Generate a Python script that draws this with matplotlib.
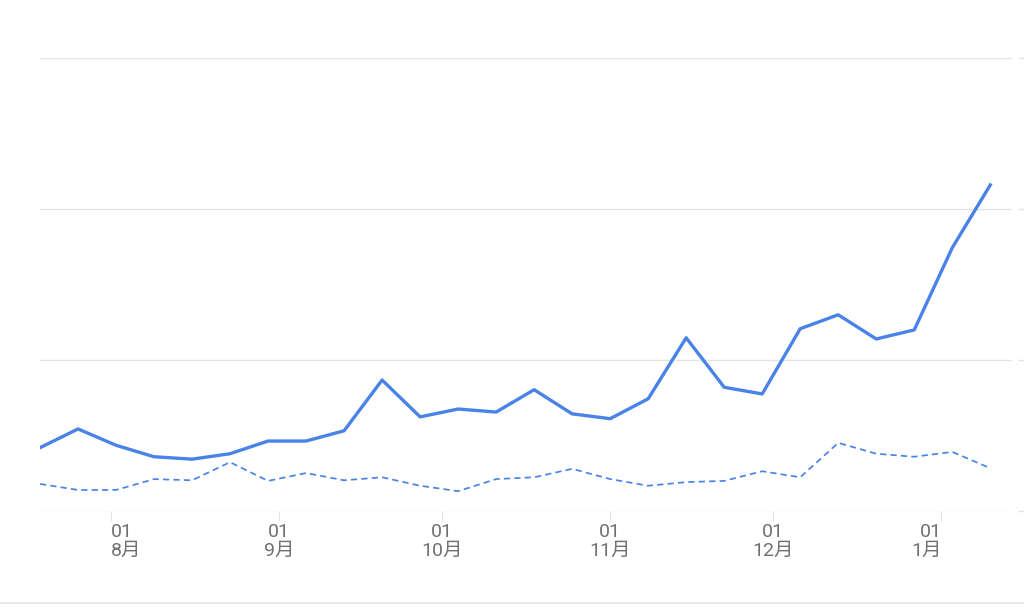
import numpy as np
import pandas as pd
import matplotlib
matplotlib.use('Agg')
import matplotlib.pyplot as plt
import matplotlib.dates as mdates
from matplotlib.lines import Line2D

plt.rcParams['font.family'] = ['Roboto', 'Noto Sans CJK SC', 'DejaVu Sans']

# weekly data
weeks = pd.date_range('2021-07-19', periods=26, freq='7D')
current = [10.4, 13.5, 10.8, 8.9, 8.5, 9.4, 11.5, 11.5, 13.2, 21.6,
           15.5, 16.8, 16.3, 20.0, 16.0, 15.2, 18.5, 28.6, 20.4, 19.3,
           30.1, 32.4, 28.4, 29.9, 43.5, 53.9]
previous = [4.4, 3.4, 3.4, 5.2, 5.0, 8.0, 4.9, 6.2, 5.0, 5.5,
            4.1, 3.2, 5.2, 5.5, 6.9, 5.2, 4.1, 4.7, 4.9, 6.5,
            5.5, 11.2, 9.4, 8.9, 9.7, 7.0]
month_ticks = pd.to_datetime(['2021-08-01', '2021-09-01', '2021-10-01',
                              '2021-11-01', '2021-12-01', '2022-01-01'])
month_labels = ['01\n8月', '01\n9月', '01\n10月', '01\n11月', '01\n12月', '01\n1月']
y_ticks = [0, 25, 50, 75]

blue = '#4a83e8'
grid = '#e4e4e4'
txt = '#717171'

fig = plt.figure(figsize=(10.24, 6.13), dpi=100)
ax = fig.add_axes([40/1024, 102.5/613, 972/1024, 453/613])

ax.plot(weeks, current, color=blue, lw=2.4, solid_joinstyle='round', zorder=3)
ax.plot(weeks, previous, color=blue, lw=1.25, linestyle=(0, (3.6, 2.4)), zorder=3)

ax.set_xlim(weeks[0], weeks[0] + pd.Timedelta(days=179))
ax.set_ylim(0, 75)

for s in ax.spines.values():
    s.set_visible(False)

ax.set_yticks(y_ticks)
ax.yaxis.tick_right()
ax.set_yticklabels([str(v) for v in y_ticks], color=txt, fontsize=12, va='top')
ax.tick_params(axis='y', length=0, pad=9)
ax.yaxis.grid(True, color=grid, lw=1.0)
for v in y_ticks:
    ax.axhline(v, xmin=1.0072, xmax=1.02, color=grid, lw=1.0, clip_on=False)

ax.set_xticks(month_ticks)
ax.set_xticklabels(month_labels, color=txt, fontsize=14, linespacing=1.05)
ax.tick_params(axis='x', length=7, width=0.8, color=grid, pad=2)
lbls = ax.get_xticklabels()
lbls[0].set_ha('left')
lbls[-1].set_ha('right')

fig.add_artist(Line2D([0, 1], [10/613, 10/613], transform=fig.transFigure,
                      color=grid, lw=1.2))

fig.savefig('out.png', dpi=100)
